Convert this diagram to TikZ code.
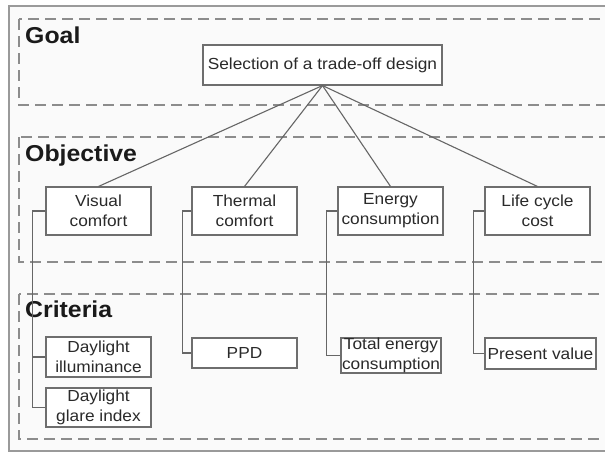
\documentclass[tikz,border=0pt]{standalone}
\usepackage{fontspec}
\setmainfont{Liberation Sans}[FakeStretch=1.08]
\definecolor{boxline}{HTML}{6E6E6E}
\definecolor{connline}{HTML}{666666}
\definecolor{zoneline}{HTML}{8C8C8C}
\definecolor{frameline}{HTML}{9A9A9A}
\definecolor{txt}{HTML}{2A2A2A}
\definecolor{lbltxt}{HTML}{1A1A1A}
\begin{document}
\begin{tikzpicture}[x=1pt,y=-1pt,
  frame/.style={draw=frameline,line width=1.5pt},
  zone/.style={draw=zoneline,line width=1.4pt,dash pattern=on 11pt off 6pt},
  lbl/.style={font=\fontsize{23}{26}\selectfont\bfseries,text=lbltxt,inner sep=0pt,anchor=base west},
  box/.style={draw=boxline,line width=1.1pt,fill=white,inner sep=0pt,align=center,
    text=txt,font=\fontsize{16}{20}\selectfont},
  conn/.style={draw=connline,line width=1.1pt}]
\useasboundingbox (0,0) rectangle (605,453);
\clip (0,0) rectangle (605,453);
\fill[white] (0,0) rectangle (605,453);
\fill[black!2] (9,6) rectangle (640,451);
\draw[frame] (9,6) rectangle (640,451);
% zones
\draw[zone] (19,19) rectangle (640,105);
\draw[zone] (19,137) rectangle (640,262);
\draw[zone] (19,294) rectangle (640,439);
% zone labels
\node[lbl] (goal) at (25,43) {Goal};
\node[lbl] (obj) at (25,161) {Objective};
\node[lbl] (cri) at (25,317) {Criteria};
% goal
\node[box,minimum width=239pt,minimum height=40pt] (sel) at (322.5,65) {Selection of a trade-off design};
% objectives
\node[box,minimum width=105pt,minimum height=48pt] (vis) at (98.5,211) {Visual\\comfort};
\node[box,minimum width=105pt,minimum height=48pt] (the) at (244.5,211) {Thermal\\comfort};
\node[box,minimum width=105pt,minimum height=48pt] (ene) at (390.5,211) {Energy\\consumption};
\node[box,minimum width=105pt,minimum height=48pt] (lcc) at (537.5,211) {Life cycle\\cost};
% criteria
\node[box,minimum width=105pt,minimum height=40pt] (ill) at (98.5,357) {Daylight\\illuminance};
\node[box,minimum width=105pt,minimum height=39pt] (gla) at (98.5,407.5) {Daylight\\glare index};
\node[box,minimum width=105pt,minimum height=30pt] (ppd) at (244.5,353) {PPD};
\node[box,minimum width=100pt,minimum height=35pt] (tec) at (391,355.5) {Total energy\\consumption};
\node[box,minimum width=111pt,minimum height=31pt] (pv) at (540.5,353.5) {Present value};
% goal to objectives
\draw[conn] (sel.south) -- (vis.north);
\draw[conn] (sel.south) -- (the.north);
\draw[conn] (sel.south) -- (ene.north);
\draw[conn] (sel.south) -- (lcc.north);
% objectives to criteria
\draw[conn] (vis.west) -- ++(-13,0) coordinate (vx) |- (ill.west);
\draw[conn] (vx) |- (gla.west);
\draw[conn] (the.west) -- ++(-9,0) |- (ppd.west);
\draw[conn] (ene.west) -- ++(-11,0) |- (tec.west);
\draw[conn] (lcc.west) -- ++(-11,0) |- (pv.west);
\end{tikzpicture}
\end{document}
